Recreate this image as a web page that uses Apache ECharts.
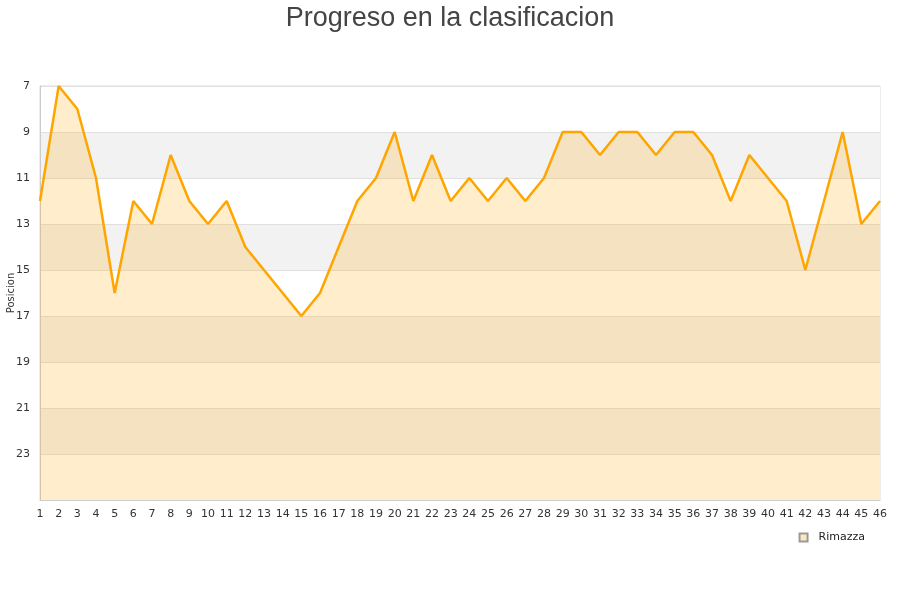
<!DOCTYPE html>
<html>
<head>
<meta charset="utf-8">
<script src="https://cdn.jsdelivr.net/npm/echarts@6/dist/echarts.min.js"></script>
<style>
  html, body { margin: 0; padding: 0; background: #fff; }
  #chart { width: 900px; height: 600px; }
</style>
</head>
<body>
<div id="chart"></div>
<script>
const jornadas = [];
for (let i = 1; i <= 46; i++) jornadas.push(String(i));

const teamName = 'Rimazza';
const posiciones = [
    12, 7, 8, 11, 16, 12, 13, 10, 12, 13,
    12, 14, 15, 16, 17, 16, 14, 12, 11, 9,
    12, 10, 12, 11, 12, 11, 12, 11, 9, 9,
    10, 9, 9, 10, 9, 9, 10, 12, 10, 11,
    12, 15, 12, 9, 13, 12
];

const chart = echarts.init(document.getElementById('chart'));

const option = {
    backgroundColor: '#fff',
    title: {
        text: 'Progreso en la clasificacion',
        left: 'center',
        top: 0,
        textStyle: {
            fontFamily: 'Liberation Sans',
            fontSize: 27,
            fontWeight: 'normal',
            color: '#444'
        }
    },
    legend: {
        right: 30,
        top: 527,
        icon: 'rect',
        itemWidth: 8,
        itemHeight: 8,
        data: [teamName],
        textStyle: {
            fontFamily: 'DejaVu Sans',
            fontSize: 11,
            color: '#222',
            padding: [0, 0, 0, 6]
        }
    },
    grid: {
        left: 40,
        right: 20,
        top: 86,
        bottom: 100,
        containLabel: false,
        outerBoundsMode: 'none',
        show: true,
        borderColor: '#ddd',
        borderWidth: 1
    },
    xAxis: {
        type: 'category',
        data: jornadas,
        boundaryGap: false,
        axisLine: { lineStyle: { color: '#ccc' } },
        axisTick: { show: false },
        axisLabel: {
            interval: 0,
            fontFamily: 'DejaVu Sans',
            fontSize: 11,
            color: '#333',
            margin: 9
        },
        splitLine: { show: false }
    },
    yAxis: {
        type: 'value',
        inverse: true,
        min: 7,
        max: 25,
        interval: 2,
        name: 'Posicion',
        nameLocation: 'middle',
        nameGap: 24,
        nameMoveOverlap: false,
        nameTextStyle: { fontFamily: 'DejaVu Sans', fontSize: 10, color: '#333' },
        axisLine: { show: true, lineStyle: { color: '#ccc' } },
        axisTick: { show: false },
        axisLabel: {
            fontFamily: 'DejaVu Sans',
            fontSize: 11,
            color: '#333',
            margin: 10,
            formatter: v => (v === 25 ? '' : v)
        },
        splitLine: { show: true, lineStyle: { color: '#e0e0e0' } },
        splitArea: { show: true, areaStyle: { color: ['#ffffff', '#f2f2f2'] } }
    },
    series: [
        {
            name: teamName,
            type: 'line',
            data: posiciones,
            symbol: 'none',
            lineStyle: { color: '#ffa500', width: 2.5 },
            itemStyle: { color: '#fde8c4', borderColor: '#999', borderWidth: 1 },
            areaStyle: { color: '#ffa500', opacity: 0.2, origin: 'end' },
            emphasis: { disabled: true }
        }
    ],
    animation: false
};

chart.setOption(option);
</script>
</body>
</html>
